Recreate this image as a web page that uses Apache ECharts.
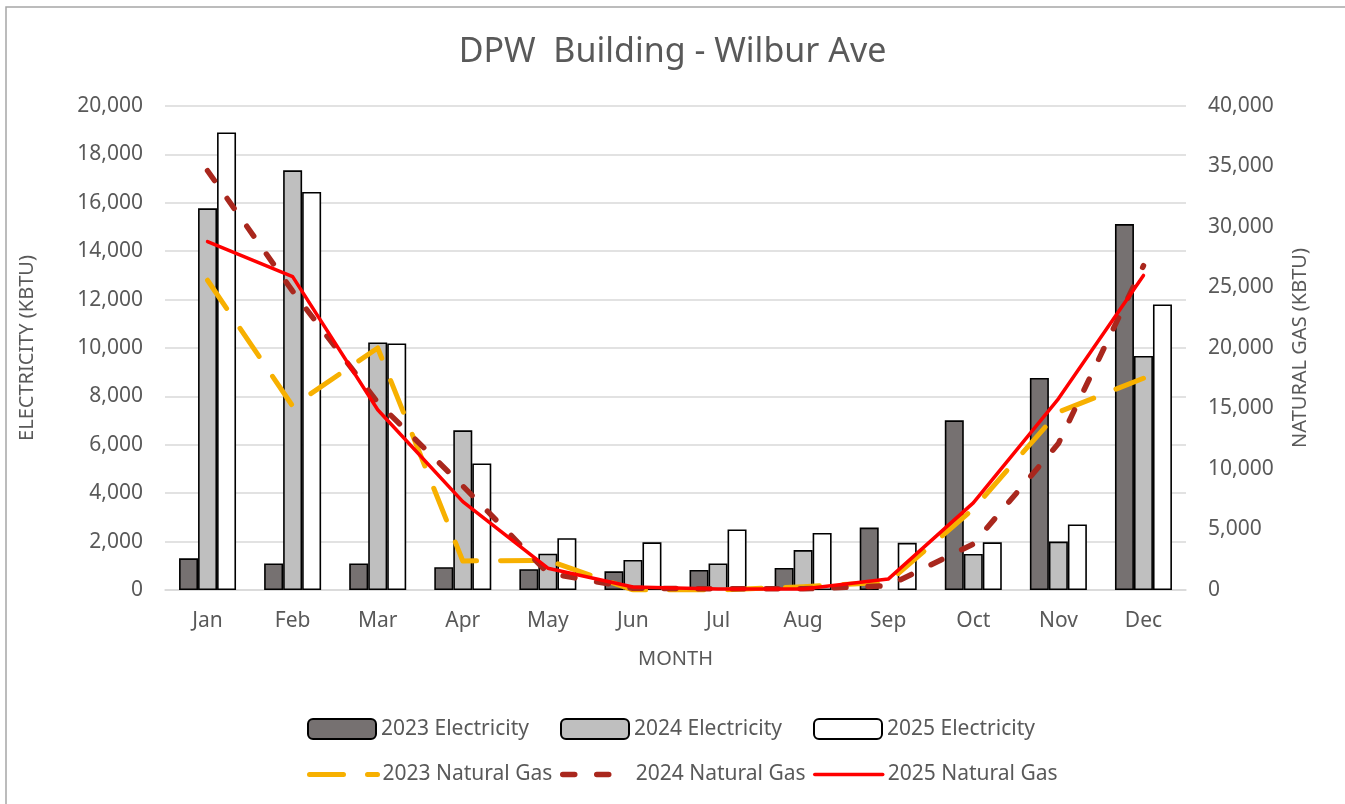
<!DOCTYPE html>
<html>
<head>
<meta charset="utf-8">
<title>DPW Building - Wilbur Ave</title>
<script src="https://cdn.jsdelivr.net/npm/echarts@6/dist/echarts.min.js"></script>
<style>
    html, body {
        margin: 0;
        padding: 0;
        background: #fff;
    }
    #chart {
        width: 1345px;
        height: 804px;
    }
</style>
</head>
<body>
<div id="chart"></div>
<script>
// months on the x axis
var months = ['Jan', 'Feb', 'Mar', 'Apr', 'May', 'Jun', 'Jul', 'Aug', 'Sep', 'Oct', 'Nov', 'Dec'];

// electricity (kBTU), left axis
var elec2023 = [1310, 1100, 1100, 940, 860, 770, 830, 910, 2580, 7010, 8760, 15120];
var elec2024 = [15770, 17340, 10230, 6600, 1500, 1240, 1100, 1650, null, 1490, 2000, 9670];
var elec2025 = [18910, 16450, 10190, 5230, 2140, 1970, 2500, 2360, 1950, 1970, 2710, 11800];

// natural gas (kBTU), right axis
var gas2023 = [25600, 15200, 20000, 2400, 2450, 0, 0, 270, 650, 6700, 14700, 17500];
var gas2024 = [34650, 24700, 15500, 8600, 1400, 150, 100, 100, 350, 3800, 12100, 26800];
var gas2025 = [28800, 25900, 14900, 7300, 1800, 250, 80, 80, 900, 7200, 15800, 26000];

var elecTicks = { min: 0, max: 20000, interval: 2000 };
var gasTicks = { min: 0, max: 40000, interval: 5000 };

var elecNames = ['2023 Electricity', '2024 Electricity', '2025 Electricity'];
var gasNames = ['2023 Natural Gas', '2024 Natural Gas', '2025 Natural Gas'];

var textGrey = '#595959';
var gridGrey = '#d9d9d9';
var font = 'Noto Sans';

// line look per gas series: colour, width, dash
var gasStyles = [
    { color: '#f7b000', width: 5, dash: [34, 24] },
    { color: '#a9271d', width: 5.5, dash: [12, 22] },
    { color: '#ff0000', width: 3.5, dash: 'solid' }
];

function fmt(v) {
    return v.toLocaleString('en-US');
}

var chart = echarts.init(document.getElementById('chart'));

function barSeries(name, data, color) {
    return {
        name: name,
        type: 'bar',
        yAxisIndex: 0,
        barWidth: 19,
        barGap: '0%',
        itemStyle: {
            color: color,
            borderColor: '#000',
            borderWidth: 1.6
        },
        data: data
    };
}

function lineSeries(name, data, st) {
    return {
        name: name,
        type: 'line',
        yAxisIndex: 1,
        symbol: 'none',
        z: 5,
        lineStyle: {
            color: st.color,
            width: st.width,
            type: st.dash,
            cap: 'round',
            join: 'round'
        },
        itemStyle: { color: st.color },
        data: data
    };
}

// excel lays the legend out in aligned columns, so one legend per entry
var legendCols = [307, 560, 813];
var legends = [];
function addLegendRow(names, top, lineStyles) {
    names.forEach(function (name, i) {
        var lg = {
            data: [name],
            left: legendCols[i],
            top: top,
            padding: 0,
            itemWidth: 68,
            itemHeight: 20,
            textStyle: {
                color: textGrey,
                fontFamily: font,
                fontSize: 21
            }
        };
        if (lineStyles) {
            lg.itemStyle = { opacity: 0 };
            lg.lineStyle = {
                width: lineStyles[i].width,
                type: lineStyles[i].dash,
                cap: 'round'
            };
        }
        legends.push(lg);
    });
}
addLegendRow(elecNames, 718, null);
addLegendRow(gasNames, 764, gasStyles);

chart.setOption({
    backgroundColor: '#fff',
    animation: false,
    textStyle: { fontFamily: font },
    graphic: [{
        type: 'rect',
        shape: { x: 6, y: 7, width: 1500, height: 1000 },
        style: { fill: 'none', stroke: '#a6a6a6', lineWidth: 1.5 },
        silent: true
    }],
    title: {
        text: 'DPW  Building - Wilbur Ave',
        left: 'center',
        top: 30,
        textStyle: {
            color: textGrey,
            fontFamily: font,
            fontSize: 34,
            fontWeight: 'normal'
        }
    },
    grid: {
        left: 165,
        right: 159,
        top: 106,
        bottom: 214,
        containLabel: false
    },
    legend: legends,
    xAxis: {
        type: 'category',
        data: months,
        name: 'MONTH',
        nameLocation: 'middle',
        nameGap: 59,
        nameTextStyle: { color: textGrey, fontSize: 20, fontFamily: font },
        axisTick: { show: false },
        axisLine: { lineStyle: { color: gridGrey, width: 1.5 } },
        axisLabel: { color: textGrey, fontSize: 21, margin: 21, fontFamily: font }
    },
    yAxis: [{
        type: 'value',
        min: elecTicks.min,
        max: elecTicks.max,
        interval: elecTicks.interval,
        name: 'ELECTRICITY (KBTU)',
        nameLocation: 'middle',
        nameRotate: 90,
        nameGap: 128,
        nameTextStyle: { color: textGrey, fontSize: 20, fontFamily: font },
        axisLine: { show: false },
        axisTick: { show: false },
        axisLabel: { color: textGrey, fontSize: 21, margin: 22, fontFamily: font, formatter: fmt },
        splitLine: { lineStyle: { color: gridGrey, width: 1.5 } }
    }, {
        type: 'value',
        position: 'right',
        min: gasTicks.min,
        max: gasTicks.max,
        interval: gasTicks.interval,
        name: 'NATURAL GAS (KBTU)',
        nameLocation: 'middle',
        nameRotate: 90,
        nameGap: 104,
        nameTextStyle: { color: textGrey, fontSize: 20, fontFamily: font },
        axisLine: { show: false },
        axisTick: { show: false },
        axisLabel: { color: textGrey, fontSize: 21, margin: 22, fontFamily: font, formatter: fmt },
        splitLine: { show: false }
    }],
    series: [
        barSeries(elecNames[0], elec2023, '#767171'),
        barSeries(elecNames[1], elec2024, '#bfbfbf'),
        barSeries(elecNames[2], elec2025, '#ffffff'),
        lineSeries(gasNames[0], gas2023, gasStyles[0]),
        lineSeries(gasNames[1], gas2024, gasStyles[1]),
        lineSeries(gasNames[2], gas2025, gasStyles[2])
    ]
});
</script>
</body>
</html>
